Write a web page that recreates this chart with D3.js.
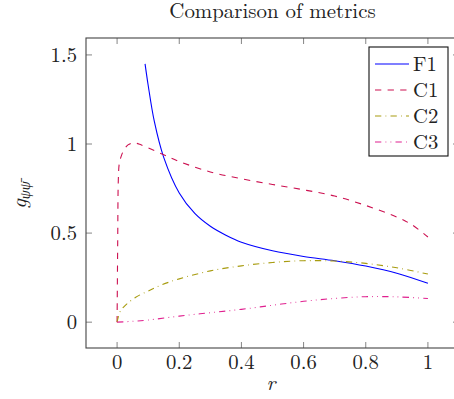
<!DOCTYPE html>
<html>
<head>
<meta charset="utf-8">
<script src="https://cdn.jsdelivr.net/npm/d3@7"></script>
<style>
  body { margin: 0; background: #fff; }
</style>
</head>
<body>
<script>
"use strict";

// data
var seriesNames = ["F1", "C1", "C2", "C3"];

var f1R = [0.09, 0.1, 0.12, 0.15, 0.2, 0.25, 0.3, 0.35, 0.4, 0.5, 0.6, 0.7, 0.8, 0.9, 1.0];
var f1G = [1.45, 1.33, 1.125, 0.925, 0.725, 0.61, 0.538, 0.488, 0.449, 0.401, 0.369, 0.345, 0.315, 0.275, 0.218];

var c1R = [0, 0.002, 0.004, 0.007, 0.012, 0.02, 0.035, 0.053, 0.07, 0.1, 0.15, 0.2, 0.3, 0.4, 0.5, 0.6, 0.7, 0.8, 0.9, 0.95, 1.0];
var c1G = [0, 0.45, 0.8, 0.89, 0.925, 0.96, 0.995, 1.007, 1.0, 0.978, 0.94, 0.902, 0.843, 0.805, 0.773, 0.743, 0.708, 0.655, 0.59, 0.545, 0.478];

var c2R = [0, 0.01, 0.03, 0.06, 0.1, 0.14, 0.2, 0.3, 0.4, 0.5, 0.6, 0.7, 0.8, 0.9, 1.0];
var c2G = [0, 0.06, 0.1, 0.14, 0.175, 0.207, 0.243, 0.288, 0.316, 0.335, 0.345, 0.343, 0.33, 0.305, 0.27];

var c3R = [0, 0.05, 0.1, 0.2, 0.3, 0.4, 0.5, 0.6, 0.7, 0.8, 0.9, 1.0];
var c3G = [0, 0.005, 0.012, 0.034, 0.053, 0.072, 0.095, 0.117, 0.133, 0.143, 0.142, 0.133];

var xTicks = [0, 0.2, 0.4, 0.6, 0.8, 1];
var yTicks = [0, 0.5, 1, 1.5];

var colors = ["#0000ff", "#cc1050", "#a89c10", "#e0208f"];
var dashes = [null, "6.3,6.3", "6.3,4.2,0.8,4.2", "6.3,4.2,0.8,4.2,0.8,4.2"];

var width = 454, height = 399;
var margin = {top: 38, right: -5, bottom: 51, left: 86};
var font = "'Latin Modern Roman'";

var svg = d3.select("body").append("svg")
  .attr("width", width)
  .attr("height", height);

var x = d3.scaleLinear().domain([-0.1, 1.1]).range([margin.left, width - margin.right]);
var y = d3.scaleLinear().domain([-0.145, 1.595]).range([height - margin.bottom, margin.top]);

var plotW = x.range()[1] - x.range()[0];
var plotH = y.range()[0] - y.range()[1];

var addText = function(sel, size) {
  return sel.append("text")
    .attr("font-family", font)
    .attr("font-size", size)
    .attr("fill", "#222");
};

// ticks (pgfplots style: inside, all four sides)
var tickLen = 6;
var tickG = svg.append("g").attr("stroke", "#777").attr("stroke-width", 0.9);

xTicks.forEach(function(t) {
  tickG.append("line").attr("x1", x(t)).attr("x2", x(t))
    .attr("y1", y.range()[0]).attr("y2", y.range()[0] - tickLen);
  tickG.append("line").attr("x1", x(t)).attr("x2", x(t))
    .attr("y1", y.range()[1]).attr("y2", y.range()[1] + tickLen);
});
yTicks.forEach(function(t) {
  tickG.append("line").attr("y1", y(t)).attr("y2", y(t))
    .attr("x1", x.range()[0]).attr("x2", x.range()[0] + tickLen);
  tickG.append("line").attr("y1", y(t)).attr("y2", y(t))
    .attr("x1", x.range()[1]).attr("x2", x.range()[1] - tickLen);
});

// tick labels
xTicks.forEach(function(t) {
  addText(svg, 20.7)
    .attr("x", x(t))
    .attr("y", 369)
    .attr("text-anchor", "middle")
    .text(d3.format("")(t));
});

yTicks.forEach(function(t) {
  addText(svg, 20.7)
    .attr("x", 77)
    .attr("y", y(t) + 7)
    .attr("text-anchor", "end")
    .text(d3.format("")(t));
});

// curves
var allR = [f1R, c1R, c2R, c3R];
var allG = [f1G, c1G, c2G, c3G];

var line = d3.line()
  .x(function(d) { return x(d[0]); })
  .y(function(d) { return y(d[1]); })
  .curve(d3.curveCatmullRom.alpha(0.5));

svg.append("defs").append("clipPath").attr("id", "plotclip")
  .append("rect").attr("x", x.range()[0]).attr("y", y.range()[1])
  .attr("width", plotW).attr("height", plotH);

var curves = svg.append("g").attr("clip-path", "url(#plotclip)");

seriesNames.forEach(function(name, i) {
  var pts = d3.zip(allR[i], allG[i]);
  curves.append("path")
    .attr("d", line(pts))
    .attr("fill", "none")
    .attr("stroke", colors[i])
    .attr("stroke-width", 1.1)
    .attr("stroke-dasharray", dashes[i]);
});

// frame
svg.append("rect")
  .attr("x", x.range()[0]).attr("y", y.range()[1])
  .attr("width", plotW).attr("height", plotH)
  .attr("fill", "none").attr("stroke", "#444").attr("stroke-width", 1.1);

// legend
var legend = svg.append("g").attr("transform", "translate(369,47)");
legend.append("rect")
  .attr("width", 79).attr("height", 109)
  .attr("fill", "#fff").attr("stroke", "#111").attr("stroke-width", 1.1);

seriesNames.forEach(function(name, i) {
  var ly = 17 + i * 26;
  legend.append("line")
    .attr("x1", 6).attr("x2", 40).attr("y1", ly).attr("y2", ly)
    .attr("stroke", colors[i]).attr("stroke-width", 1.1)
    .attr("stroke-dasharray", dashes[i]);
  addText(legend, 20.7)
    .attr("x", 44).attr("y", ly + 7)
    .text(name);
});

// title
addText(svg, 20.9)
  .attr("x", (x.range()[0] + x.range()[1]) / 2)
  .attr("y", 18)
  .attr("text-anchor", "middle")
  .text("Comparison of metrics");

// axis labels
addText(svg, 21)
  .attr("x", 271).attr("y", 390)
  .attr("text-anchor", "middle")
  .attr("font-style", "italic")
  .text("r");

var yl = addText(svg, 21)
  .attr("transform", "translate(26,195) rotate(-90)")
  .attr("text-anchor", "middle")
  .attr("font-style", "italic");
yl.append("tspan").text("g");
yl.append("tspan").attr("font-size", 14.5).attr("dy", 4).text("\u03C8\u03C8\u0304");
</script>
</body>
</html>
